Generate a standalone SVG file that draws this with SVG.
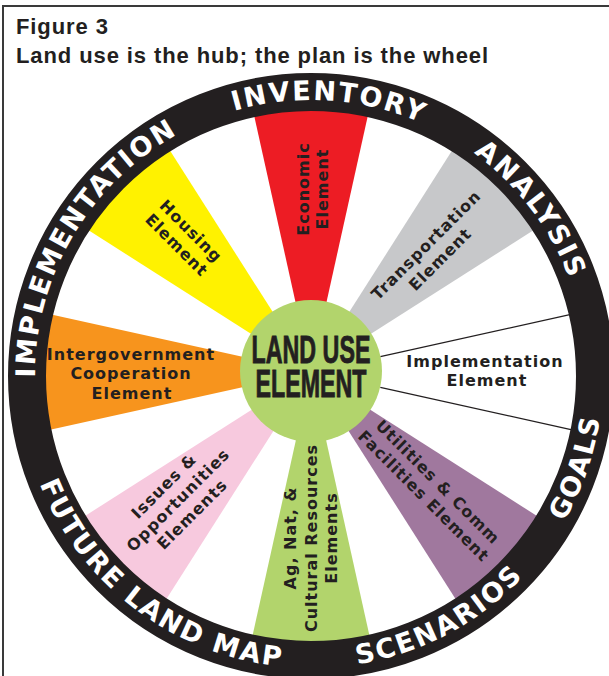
<svg xmlns="http://www.w3.org/2000/svg" width="609" height="676" viewBox="0 0 609 676">
<style>
.lbl{font-family:"DejaVu Sans",sans-serif;font-weight:bold;font-size:16px;letter-spacing:1px;fill:#231f20;text-anchor:middle}
.ring{font-family:"DejaVu Sans",sans-serif;font-weight:bold;font-size:27px;letter-spacing:2px;fill:#ffffff;text-anchor:middle}
.title{font-family:"Liberation Sans",Arial,sans-serif;font-weight:bold;font-size:22px;letter-spacing:0.9px;fill:#231f20}
.hub{font-family:"Liberation Sans",Arial,sans-serif;font-weight:bold;font-size:38px;fill:#231f20;stroke:#231f20;stroke-width:0.9;text-anchor:middle}
.spoke{stroke:#231f20;stroke-width:1.3;fill:none}
</style>
<defs>
<path id="wedge" d="M311,372 L250.4,98.64 A280,280 0 0 1 371.6,98.64 Z"/>
<path id="topArc" d="M51.64,281.6 A276,276 0 0 1 570.36,281.6"/>
<path id="botArc" d="M36.61,475.87 A292,292 0 0 0 585.39,475.87"/>
</defs>
<rect x="0" y="0" width="609" height="676" fill="#ffffff"/>
<rect x="3" y="6" width="650" height="700" fill="none" stroke="#3a3a3a" stroke-width="2"/>
<g id="title">
<text class="title" x="16" y="34">Figure 3</text>
<text class="title" x="16" y="62.7">Land use is the hub; the plan is the wheel</text>
</g>

<g id="economic-element">
<use href="#wedge" fill="#ed1c24"/>
<g transform="translate(309,189) rotate(-90)">
<text class="lbl" x="0" y="0">Economic</text>
<text class="lbl" x="0" y="19">Element</text>
</g>
</g>
<g id="transportation-element">
<use href="#wedge" fill="#c7c8ca" transform="rotate(45 311 372)"/>
<g transform="translate(430,249) rotate(-45)">
<text class="lbl" x="0" y="0">Transportation</text>
<text class="lbl" x="0" y="20">Element</text>
</g>
</g>
<g id="implementation-element">
<text class="lbl" x="485" y="367">Implementation</text>
<text class="lbl" x="487" y="386">Element</text>
</g>
<g id="utilities-element">
<use href="#wedge" fill="#a0789e" transform="rotate(135 311 372)"/>
<g transform="translate(434,486) rotate(45)">
<text class="lbl" x="0" y="0">Utilities &amp; Comm</text>
<text class="lbl" x="0" y="20">Facilities Element</text>
</g>
</g>
<g id="ag-nat-cultural-element">
<use href="#wedge" fill="#b2d46c" transform="rotate(180 311 372)"/>
<g transform="translate(316.5,538) rotate(-90)">
<text class="lbl" x="0" y="-20.5">Ag, Nat, &amp;</text>
<text class="lbl" x="0" y="0">Cultural Resources</text>
<text class="lbl" x="0" y="20.5">Elements</text>
</g>
</g>
<g id="issues-element">
<use href="#wedge" fill="#f7c9de" transform="rotate(225 311 372)"/>
<g transform="translate(182,504) rotate(-45)">
<text class="lbl" x="0" y="-20">Issues &amp;</text>
<text class="lbl" x="0" y="0">Opportunities</text>
<text class="lbl" x="0" y="20">Elements</text>
</g>
</g>
<g id="intergovernment-element">
<use href="#wedge" fill="#f7941d" transform="rotate(270 311 372)"/>
<text class="lbl" x="131" y="359.5">Intergovernment</text>
<text class="lbl" x="131" y="379">Cooperation</text>
<text class="lbl" x="132" y="398.5">Element</text>
</g>
<g id="housing-element">
<use href="#wedge" fill="#fff200" transform="rotate(315 311 372)"/>
<g transform="translate(187,235) rotate(45)">
<text class="lbl" x="0" y="0">Housing</text>
<text class="lbl" x="0" y="20">Element</text>
</g>
</g>

<g id="connectors">
<line class="spoke" x1="311" y1="301" x2="311" y2="100" transform="rotate(77.5 311 372)"/>
<line class="spoke" x1="311" y1="301" x2="311" y2="100" transform="rotate(102.5 311 372)"/>
</g>

<g id="wheel-rim">
<circle cx="311" cy="376" r="284" fill="none" stroke="#231f20" stroke-width="38"/>
<text class="ring" transform="rotate(-59.5 311 376)"><textPath href="#topArc" startOffset="50%">IMPLEMENTATION</textPath></text>
<text class="ring" transform="rotate(3.8 311 376)"><textPath href="#topArc" startOffset="50%">INVENTORY</textPath></text>
<text class="ring" transform="rotate(52.9 311 376)"><textPath href="#topArc" startOffset="50%">ANALYSIS</textPath></text>
<text class="ring" transform="rotate(-71 311 376)"><textPath href="#botArc" startOffset="50%">GOALS</textPath></text>
<text class="ring" transform="rotate(-28 311 376)"><textPath href="#botArc" startOffset="50%">SCENARIOS</textPath></text>
<text class="ring" transform="rotate(37 311 376)"><textPath href="#botArc" startOffset="50%">FUTURE LAND MAP</textPath></text>
</g>

<g id="land-use-element">
<circle cx="311" cy="371" r="71" fill="#b2d46c"/>
<text class="hub" transform="translate(311,363) scale(0.612,1)"><tspan x="0" y="0">LAND USE</tspan><tspan x="0" y="34">ELEMENT</tspan></text>
</g>
</svg>
